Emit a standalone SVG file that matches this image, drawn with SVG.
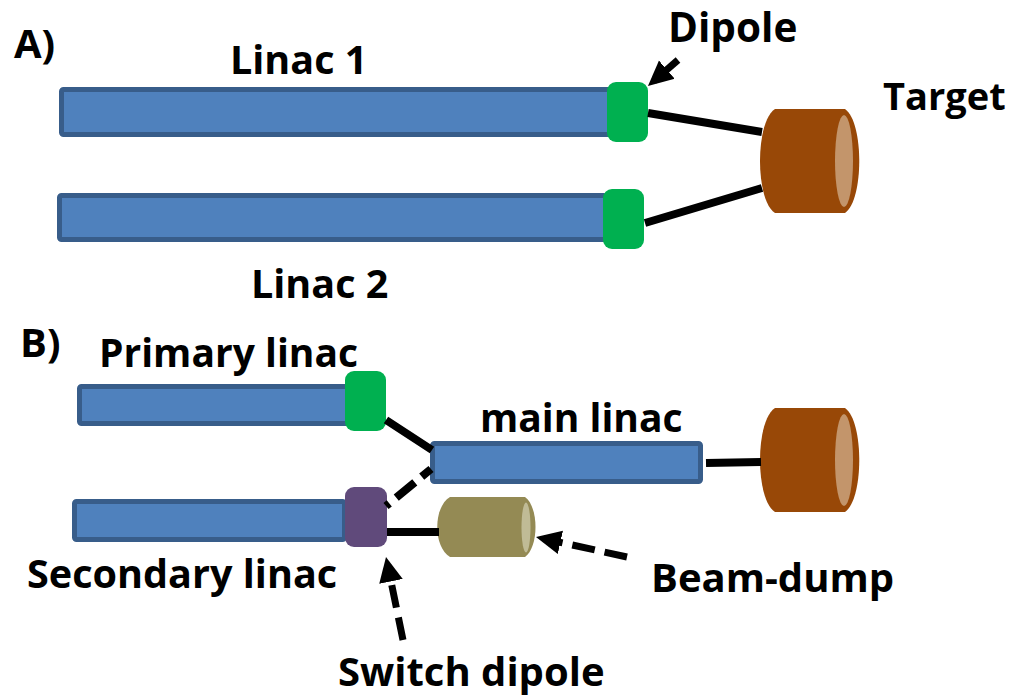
<svg xmlns="http://www.w3.org/2000/svg" width="1010" height="696" viewBox="0 0 1010 696">
<defs><marker id="ah" markerUnits="userSpaceOnUse" markerWidth="28" markerHeight="28" refX="17" refY="13" orient="auto"><path d="M0 1L25 13L0 25z" fill="#000"/></marker></defs>
<style>
text{font-family:"Open Sans","Liberation Sans",sans-serif;font-weight:700;font-size:40px;fill:#000}
.l{fill:#4f81bd;stroke:#385d8a;stroke-width:5}
.g{fill:#00b050}
.c{stroke:#000;stroke-width:8;fill:none}
.a{stroke-width:7}
.d{stroke-dasharray:23 10}
.body{fill:#984807}
.face{fill:#c3956b}
</style>
<rect width="1010" height="696" fill="#fff"/>
<g id="linac1"><rect class="l" x="61.500" y="89.500" width="548" height="45" rx="2"/><text x="230" y="74" font-size="39.500" style="font-size:39.500px">Linac 1</text></g>
<g id="linac2"><rect class="l" x="59.500" y="195.500" width="546" height="44" rx="2"/><text x="251" y="298" style="font-size:39.500px">Linac 2</text></g>
<g id="dipole1"><rect class="g" x="607" y="82" width="41" height="60" rx="9"/><text x="668" y="42" style="font-size:40.500px">Dipole</text></g>
<g id="dipole2"><rect class="g" x="603" y="189" width="41" height="60" rx="9"/></g>
<g id="target1"><path class="body" d="M775 109H845C864 122 864 200 845 213H775C755 200 755 122 775 109z"/><ellipse class="face" cx="844" cy="161" rx="9" ry="46"/><text x="883" y="110" style="font-size:38px">Target</text></g>
<g id="primary"><rect class="l" x="79.500" y="386.500" width="268" height="37" rx="2"/><text x="99" y="367" style="font-size:39px">Primary linac</text></g>
<g id="primaryDipole"><rect class="g" x="345" y="371" width="41" height="60" rx="9"/></g>
<g id="main"><rect class="l" x="432.500" y="443.500" width="268" height="38" rx="2"/><text x="480" y="432" style="font-size:39px">main linac</text></g>
<g id="target2"><path class="body" d="M775 408H845C864 421 864 499 845 512H775C755 499 755 421 775 408z"/><ellipse class="face" cx="844" cy="460" rx="9" ry="46"/></g>
<g id="secondary"><rect class="l" x="74.500" y="501.500" width="270" height="38" rx="2"/><text x="27" y="588" style="font-size:39.600px">Secondary linac</text></g>
<g id="switch"><rect x="345" y="487" width="42" height="60" rx="9" fill="#604a7b"/><text x="338" y="686">Switch dipole</text></g>
<g id="dump"><path d="M450 497H525C539 507 539 547 525 557H450C433 547 433 507 450 497z" fill="#948a54"/><ellipse cx="526" cy="527.500" rx="4.500" ry="25" fill="#c0bb96"/><text x="651" y="592">Beam-dump</text></g>
<g id="labels"><text x="14" y="58">A)</text><text x="20" y="357">B)</text></g>
<g id="connectors">
<path class="c" d="M648 113L762 132M645 223L762 188M386 420L432 450"/>
<path class="c" d="M706 463L761 462M387 532L439 532"/>
<path class="c" style="stroke-dasharray:12 9 24 9" d="M431 469L386 506"/>
<path class="c a" d="M678 60L654 80.800" marker-end="url(#ah)"/>
<path class="c a d" d="M627 557L543.800 538.700" marker-end="url(#ah)"/>
<path class="c a d" d="M403 640L387.600 564.800" marker-end="url(#ah)"/>
</g>
</svg>
